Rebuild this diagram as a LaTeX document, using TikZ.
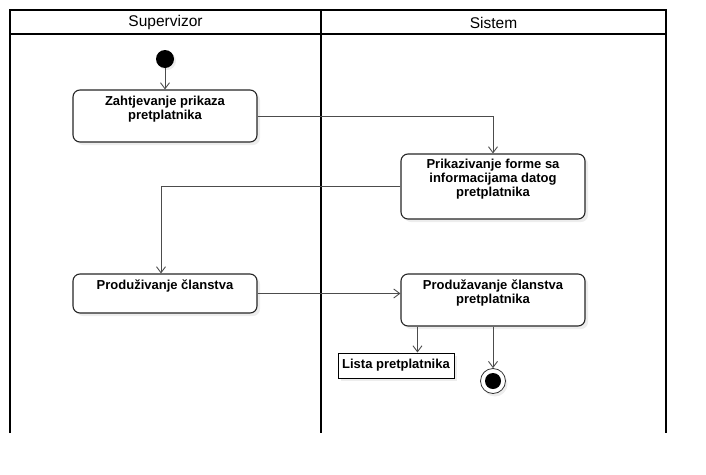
\documentclass[tikz,border=0pt]{standalone}
\usepackage{fontspec}
\setmainfont{Liberation Sans}
\usetikzlibrary{arrows.meta,shadows,calc}
\tikzset{
  act/.style={draw=black!85, line width=1.1pt, rounded corners=7pt, fill=white,
    drop shadow={shadow xshift=3pt, shadow yshift=-3pt, fill=black!7, opacity=1}},
  acttext/.style={anchor=north, align=center, font=\fontsize{13}{13.8}\selectfont\bfseries, inner sep=0pt},
  arr/.style={draw=black!70, line width=0.9pt, -{Straight Barb[length=6pt,width=9pt]}},
  lane/.style={line width=1.5pt, draw=black},
  hdr/.style={font=\fontsize{15.5}{17}\selectfont, inner sep=0pt}
}
\begin{document}
\begin{tikzpicture}[x=1pt,y=-1pt]
\useasboundingbox (0,0) rectangle (706,474);
% swimlanes
\draw[lane] (10,433) -- (10,10) -- (666,10) -- (666,433);
\draw[lane] (321,10) -- (321,433);
\draw[lane] (10,34) -- (666,34);
\node[hdr] (h1) at (165.5,22.5) {Supervizor};
\node[hdr] (h2) at (493.5,22.5) {Sistem};
% start
\node[circle, fill=black, minimum size=18pt, inner sep=0pt,
  drop shadow={shadow xshift=2pt, shadow yshift=-2pt, fill=black!7, opacity=1}] (start) at (165,59) {};
% activities
\node[act, minimum width=184pt, minimum height=52pt, inner sep=0pt] (b1) at (165,116) {};
\node[acttext] (t1) at ($(b1.north)+(0,6.5)$) {Zahtjevanje prikaza\\pretplatnika};
\node[act, minimum width=184pt, minimum height=65pt, inner sep=0pt] (b2) at (493,186.5) {};
\node[acttext] (t2) at ($(b2.north)+(0,5.5)$) {Prikazivanje forme sa\\informacijama datog\\pretplatnika};
\node[act, minimum width=184pt, minimum height=39pt, inner sep=0pt] (b3) at (165,293.5) {};
\node[acttext] (t3) at ($(b3.north)+(0,6.5)$) {Produživanje članstva};
\node[act, minimum width=184pt, minimum height=52pt, inner sep=0pt] (b4) at (493,300) {};
\node[acttext] (t4) at ($(b4.north)+(0,6.5)$) {Produžavanje članstva\\pretplatnika};
% object
\node[draw=black, line width=1pt, fill=white, minimum width=116pt, minimum height=25pt, inner sep=0pt,
  font=\fontsize{13}{14}\selectfont\bfseries,
  drop shadow={shadow xshift=3pt, shadow yshift=-3pt, fill=black!7, opacity=1}] (obj) at (396,365.5) {Lista pretplatnika};
% end
\node[circle, draw=black!80, line width=0.8pt, fill=white, minimum size=25pt, inner sep=0pt,
  drop shadow={shadow xshift=2pt, shadow yshift=-3pt, fill=black!7, opacity=1}] (end) at (493,381) {};
\node[circle, fill=black, minimum size=16pt, inner sep=0pt] (endin) at (end.center) {};
% connectors
\draw[arr] (start.south) -- (b1.north);
\draw[arr] (b1.east) -| (b2.north);
\draw[arr] (b2.west) -| ([xshift=-4pt]b3.north);
\draw[arr] (b3.east) -- (b3.east -| b4.west);
\coordinate (c4) at ([xshift=17pt]b4.south west);
\draw[arr] (c4) -- (c4 |- obj.north);
\draw[arr] (b4.south) -- (end.north);
\end{tikzpicture}
\end{document}
